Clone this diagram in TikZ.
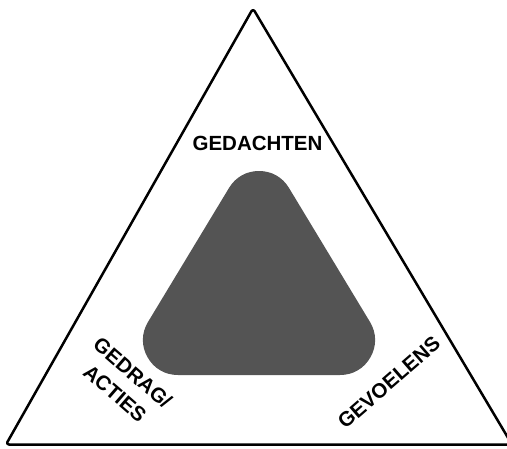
\documentclass[tikz,border=0pt]{standalone}
\usepackage{fontspec}
\setmainfont{Liberation Sans}
\definecolor{innergray}{RGB}{84,84,84}
\begin{document}
\begin{tikzpicture}[x=1pt,y=-1pt,
  lbl/.style={font=\bfseries\fontsize{20.5}{27}\selectfont, align=center, inner sep=0pt, text=black},
  outerline/.style={line width=2.5pt, rounded corners=3pt, line join=round},
  innerfill/.style={fill=innergray, draw=innergray, line width=70pt, line join=round}]
\useasboundingbox (0,0) rectangle (507,448);
\coordinate (A) at (253,8.5);
\coordinate (L) at (6,444.5);
\coordinate (R) at (512,444.5);
\draw[outerline] (A) -- (L) -- (R) -- cycle;
\coordinate (c1) at (259,206);
\coordinate (c2) at (178,340);
\coordinate (c3) at (340,340);
\filldraw[innerfill] (c1) -- (c2) -- (c3) -- cycle;
\node[lbl] (ged) at (257.5,143.8) {GEDACHTEN};
\node[lbl, rotate=41] (gev) at (389,382.5) {GEVOELENS};
\node[lbl, rotate=-41] (gdr) at (124,383) {GEDRAG/\\ACTIES};
\end{tikzpicture}
\end{document}
